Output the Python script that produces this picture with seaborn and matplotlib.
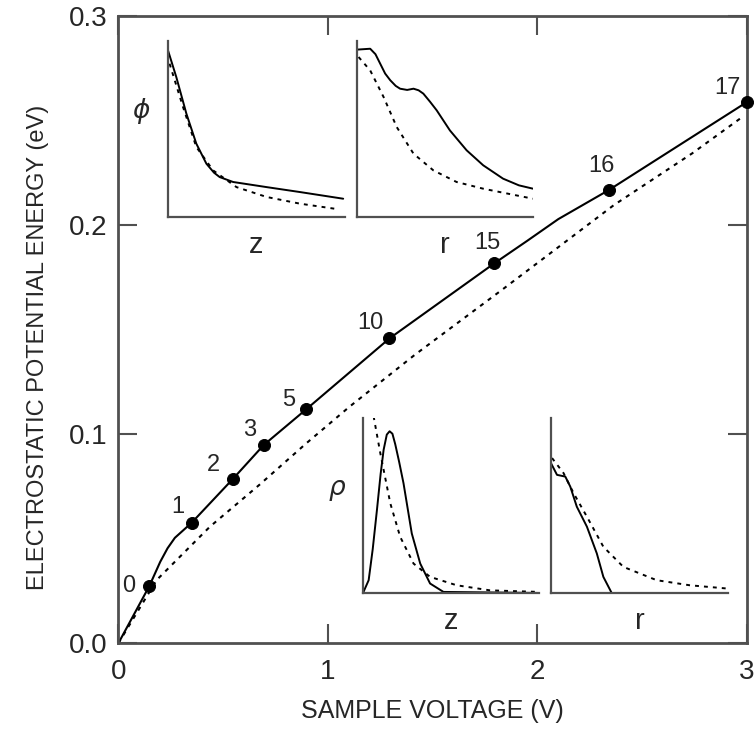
import matplotlib
matplotlib.use("Agg")
import matplotlib.pyplot as plt
import seaborn as sns

# main curve (sample voltage V, potential energy eV)
volt_solid = [0.0, 0.148, 0.20, 0.235, 0.27, 0.35, 0.548, 0.694, 0.897, 1.294, 1.794, 1.95, 2.10, 2.341, 2.74, 3.0]
energy_solid = [0.0, 0.0274, 0.0390, 0.0455, 0.0505, 0.0577, 0.0788, 0.0949, 0.112, 0.1459, 0.1818, 0.1925, 0.2030,
                0.2169, 0.2424, 0.259]
volt_dashed = [0.0, 0.183, 0.437, 0.675, 0.897, 1.103, 1.413, 1.841, 2.365, 2.738, 2.969]
energy_dashed = [0.0, 0.0303, 0.0558, 0.0760, 0.0957, 0.1132, 0.1379, 0.1699, 0.2097, 0.2344, 0.2512]

# labelled points
point_labels = ["0", "1", "2", "3", "5", "10", "15", "16", "17"]
point_volt = [0.148, 0.35, 0.548, 0.694, 0.897, 1.294, 1.794, 2.341, 3.0]
point_energy = [0.0274, 0.0577, 0.0788, 0.0949, 0.112, 0.1459, 0.1818, 0.2169, 0.259]

# insets (normalised units)
phi_z_x = [0.0, 0.047, 0.104, 0.16, 0.217, 0.26, 0.292, 0.368, 0.557, 0.745, 0.99]
phi_z_solid = [0.947, 0.795, 0.587, 0.417, 0.303, 0.252, 0.227, 0.199, 0.170, 0.142, 0.104]
phi_z_xd = [0.009, 0.085, 0.16, 0.255, 0.387, 0.557, 0.745, 0.943]
phi_z_dashed = [0.871, 0.625, 0.398, 0.265, 0.17, 0.114, 0.076, 0.047]

phi_r_x = [0.0, 0.075, 0.105, 0.132, 0.16, 0.189, 0.22, 0.245, 0.285, 0.321, 0.35, 0.377,
           0.415, 0.453, 0.528, 0.623, 0.717, 0.83, 0.92, 1.0]
phi_r_solid = [0.951, 0.956, 0.925, 0.871, 0.815, 0.777, 0.745, 0.729, 0.722, 0.729, 0.72, 0.701,
               0.655, 0.606, 0.492, 0.379, 0.294, 0.218, 0.18, 0.161]
phi_r_xd = [0.009, 0.075, 0.151, 0.226, 0.321, 0.434, 0.566, 0.717, 1.0]
phi_r_dashed = [0.909, 0.833, 0.682, 0.511, 0.36, 0.265, 0.199, 0.161, 0.104]

rho_z_x = [0.0, 0.032, 0.055, 0.079, 0.10, 0.117, 0.135, 0.151, 0.167, 0.183, 0.205, 0.23, 0.277,
           0.325, 0.381, 0.457, 1.0]
rho_z_solid = [0.0, 0.073, 0.25, 0.474, 0.68, 0.818, 0.905, 0.924, 0.91, 0.85, 0.75, 0.627, 0.34,
               0.168, 0.054, 0.006, 0.0]
rho_z_xd = [0.06, 0.098, 0.155, 0.211, 0.287, 0.381, 0.532, 0.721, 1.0]
rho_z_dashed = [1.01, 0.8, 0.512, 0.321, 0.168, 0.092, 0.044, 0.015, 0.006]

rho_r_x = [0.0, 0.034, 0.081, 0.109, 0.146, 0.203, 0.259, 0.296, 0.343]
rho_r_solid = [0.742, 0.675, 0.665, 0.608, 0.493, 0.379, 0.226, 0.092, 0.0]
rho_r_xd = [0.006, 0.071, 0.128, 0.203, 0.296, 0.409, 0.597, 0.784, 1.0]
rho_r_dashed = [0.771, 0.685, 0.57, 0.436, 0.264, 0.149, 0.073, 0.044, 0.025]

sns.set_style("ticks")
plt.rcParams["font.family"] = ["Liberation Sans", "DejaVu Sans"]

SPINE = "#505050"
DASH = (0, (2, 2.6))

fig = plt.figure(figsize=(7.56, 7.44), dpi=100)
ax = fig.add_axes([0.1565, 0.1353, 0.8315, 0.8427])

sns.lineplot(x=volt_solid, y=energy_solid, ax=ax, color="black", lw=1.5, sort=False, estimator=None)
sns.lineplot(x=volt_dashed, y=energy_dashed, ax=ax, color="black", lw=1.5, linestyle=DASH, sort=False, estimator=None)
sns.scatterplot(x=point_volt, y=point_energy, ax=ax, color="black", s=75, edgecolor="black", zorder=5, clip_on=False)

offsets = [(-15, 0), (-10, 11), (-14, 10), (-10, 11), (-13, 7), (-14, 11), (-5, 15), (-5, 17), (-14, 10)]
for lab, x, y, off in zip(point_labels, point_volt, point_energy, offsets):
    ax.annotate(lab, (x, y), xytext=off, textcoords="offset points", ha="center", va="center", fontsize=17)

ax.set_xlim(0, 3)
ax.set_ylim(0, 0.3)
ax.set_xticks([0, 1, 2, 3])
ax.set_xticklabels(["0", "1", "2", "3"])
ax.set_yticks([0, 0.1, 0.2, 0.3])
ax.set_yticklabels(["0.0", "0.1", "0.2", "0.3"])
ax.tick_params(direction="in", length=14, width=1.5, color=SPINE, labelsize=20,
               top=True, right=True)
ax.tick_params(axis="x", pad=11)
ax.tick_params(axis="y", pad=8)
for sp in ax.spines.values():
    sp.set_color(SPINE)
    sp.set_linewidth(2)
ax.set_xlabel("SAMPLE VOLTAGE (V)", fontsize=18, labelpad=10)
ax.set_ylabel("ELECTROSTATIC POTENTIAL ENERGY (eV)", fontsize=17)
ax.yaxis.set_label_coords(-0.11, 0.472)

insets = [
    ([0.2222, 0.7083, 0.2341, 0.2366], phi_z_x, phi_z_solid, phi_z_xd, phi_z_dashed, "z", "\u03d5"),
    ([0.4722, 0.7083, 0.2328, 0.2366], phi_r_x, phi_r_solid, phi_r_xd, phi_r_dashed, "r", None),
    ([0.4802, 0.2030, 0.2328, 0.2352], rho_z_x, rho_z_solid, rho_z_xd, rho_z_dashed, "z", "\u03c1"),
    ([0.7288, 0.2030, 0.2341, 0.2352], rho_r_x, rho_r_solid, rho_r_xd, rho_r_dashed, "r", None),
]
for rect, xs, ys, xd, yd, xlab, ylab in insets:
    ia = fig.add_axes(rect)
    ia.patch.set_alpha(0)
    sns.lineplot(x=xs, y=ys, ax=ia, color="black", lw=1.4, sort=False, estimator=None)
    sns.lineplot(x=xd, y=yd, ax=ia, color="black", lw=1.4, linestyle=DASH, sort=False, estimator=None)
    ia.set_xlim(0, 1)
    ia.set_ylim(0, 1)
    ia.set_xticks([])
    ia.set_yticks([])
    for side in ["top", "right"]:
        ia.spines[side].set_visible(False)
    for side in ["left", "bottom"]:
        ia.spines[side].set_color(SPINE)
        ia.spines[side].set_linewidth(1.6)
    ia.text(0.5, -0.16, xlab, transform=ia.transAxes, ha="center", va="center", fontsize=21)
    if ylab:
        ia.text(-0.15, 0.6, ylab, transform=ia.transAxes, ha="center", va="center",
                fontsize=19, style="italic", family=["DejaVu Sans"])

fig.savefig("out.png", dpi=100)
